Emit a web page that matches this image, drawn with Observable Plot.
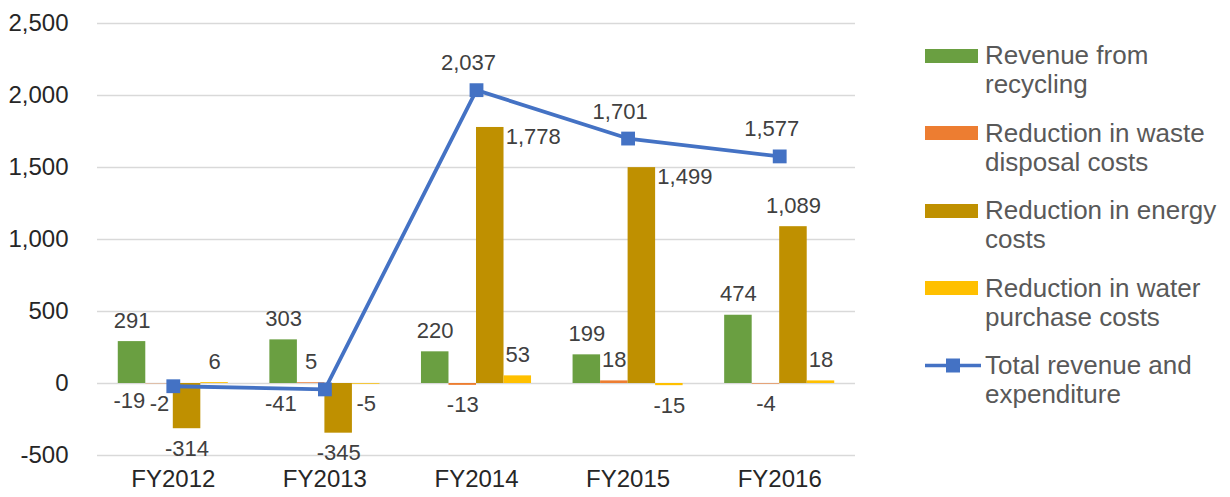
<!DOCTYPE html>
<html><head><meta charset="utf-8">
<script src="https://cdn.jsdelivr.net/npm/d3@7"></script>
<script src="https://cdn.jsdelivr.net/npm/@observablehq/plot@0.6"></script>
<style>
body{margin:0;background:#fff;font-family:"Liberation Sans",Arial,sans-serif;}
#chart{position:relative;width:1230px;height:497px;overflow:hidden;}
#chart .layer{position:absolute;left:0;top:0;}
#legend{position:absolute;left:925px;top:41px;color:#595959;font-size:26px;line-height:29px;white-space:nowrap;}
.item{display:flex;align-items:flex-start;margin-bottom:19.5px;}
.sw{width:53px;height:14px;margin-top:7.5px;margin-right:7px;flex:none;}
</style></head><body><div id="chart"><div id="legend"></div></div><script>
const categories = ["FY2012","FY2013","FY2014","FY2015","FY2016"];
const seriesNames = ["Revenue from recycling","Reduction in waste disposal costs","Reduction in energy costs","Reduction in water purchase costs"];
const seriesLegend = [["Revenue from","recycling"],["Reduction in waste","disposal costs"],["Reduction in energy","costs"],["Reduction in water","purchase costs"]];
const seriesColors = ["#6A9F41","#ED7D31","#BF9000","#FFC000"];
const recycling = [291,303,220,199,474];
const wasteDisposal = [-2,5,-13,18,-4];
const energy = [-314,-345,1778,1499,1089];
const water = [6,-5,53,-15,18];
const totalName = ["Total revenue and","expenditure"];
const total = [-19,-41,2037,1701,1577];
const totalColor = "#4472C4";
const yTicks = [-500,0,500,1000,1500,2000,2500];

const seriesValues = [recycling, wasteDisposal, energy, water];
const rows = categories.flatMap((c,i) => seriesNames.map((s,j) => ({category:c, series:s, value:seriesValues[j][i]})));
const totals = categories.map((c,i) => ({category:c, value: total[i]}));
const fmt = v => v.toLocaleString("en-US");

const W = 870, H = 497;
const common = {width:W, height:H, marginLeft:97, marginRight:15, marginTop:23, marginBottom:42};
const band = {domain:categories, paddingInner:0.274, paddingOuter:0.137, round:false};
const yDom = [-500, 2500];
const labelFill = "#404040";
const labelSize = 22;
const sideLabel = d => d.series === seriesNames[2] && d.value > 1400;

// Layer 1: gridlines and axes
const base = Plot.plot({
  ...common,
  style:{fontFamily:"'Liberation Sans', Arial, sans-serif", fontSize:"24px", color:"#262626", background:"transparent"},
  x:{...band, tickSize:0, tickPadding:14, label:null},
  y:{domain:yDom, ticks:yTicks, tickSize:0, tickPadding:29, tickFormat:fmt, label:null},
  marks:[Plot.ruleY(yTicks, {stroke:"#D9D9D9", strokeWidth:1.5})]
});

// Layer 2: grouped bars with labels
const bars = Plot.plot({
  ...common,
  style:{fontFamily:"'Liberation Sans', Arial, sans-serif", background:"transparent"},
  fx:{...band, axis:null, label:null},
  x:{domain:seriesNames, padding:0, round:false, axis:null},
  y:{domain:yDom, axis:null},
  color:{domain:seriesNames, range:seriesColors},
  marks:[
    Plot.barY(rows, {fx:"category", x:"series", y:"value", fill:"series"}),
    Plot.text(rows.filter(d => d.value >= 0 && !sideLabel(d)), {fx:"category", x:"series", y:"value", text:d => fmt(d.value), dy:-21, fill:labelFill, fontSize:labelSize}),
    Plot.text(rows.filter(d => d.value < 0), {fx:"category", x:"series", y:"value", text:d => fmt(d.value), dy:20, fill:labelFill, fontSize:labelSize}),
    Plot.text(rows.filter(sideLabel), {fx:"category", x:"series", y:"value", text:d => fmt(d.value), dx:43, dy:9, fill:labelFill, fontSize:labelSize})
  ]
});

// Layer 3: total line
const line = Plot.plot({
  ...common,
  style:{fontFamily:"'Liberation Sans', Arial, sans-serif", background:"transparent"},
  x:{...band, axis:null},
  y:{domain:yDom, axis:null},
  marks:[
    Plot.line(totals, {x:"category", y:"value", stroke:totalColor, strokeWidth:3.8}),
    Plot.dot(totals, {x:"category", y:"value", symbol:"square", r:7.8, fill:totalColor, stroke:"none"}),
    Plot.text(totals.filter(d => d.value >= 0), {x:"category", y:"value", text:d => fmt(d.value), dx:-8, dy:-27, fill:labelFill, fontSize:labelSize}),
    Plot.text(totals.filter(d => d.value < 0), {x:"category", y:"value", text:d => fmt(d.value), dx:-44, dy:15, fill:labelFill, fontSize:labelSize})
  ]
});

const chart = document.getElementById("chart");
[base, bars, line].forEach(p => { p.classList.add("layer"); chart.insertBefore(p, document.getElementById("legend")); });

// Legend
const legend = document.getElementById("legend");
seriesLegend.forEach((lines, j) => {
  const it = document.createElement("div"); it.className = "item";
  const sw = document.createElement("div"); sw.className = "sw"; sw.style.background = seriesColors[j];
  const tx = document.createElement("div"); tx.innerHTML = lines.join("<br>");
  it.append(sw, tx); legend.append(it);
});
{
  const it = document.createElement("div"); it.className = "item";
  const ns = "http://www.w3.org/2000/svg";
  const svg = document.createElementNS(ns, "svg");
  svg.setAttribute("width", 56); svg.setAttribute("height", 29);
  svg.style.flex = "none"; svg.style.marginRight = "4px";
  const ln = document.createElementNS(ns, "line");
  ln.setAttribute("x1", 0); ln.setAttribute("x2", 56); ln.setAttribute("y1", 14.5); ln.setAttribute("y2", 14.5);
  ln.setAttribute("stroke", totalColor); ln.setAttribute("stroke-width", 3.5);
  const sq = document.createElementNS(ns, "rect");
  sq.setAttribute("x", 21); sq.setAttribute("y", 7.5); sq.setAttribute("width", 14); sq.setAttribute("height", 14);
  sq.setAttribute("fill", totalColor);
  svg.append(ln, sq);
  const tx = document.createElement("div"); tx.innerHTML = totalName.join("<br>");
  it.append(svg, tx); legend.append(it);
}
</script></body></html>
